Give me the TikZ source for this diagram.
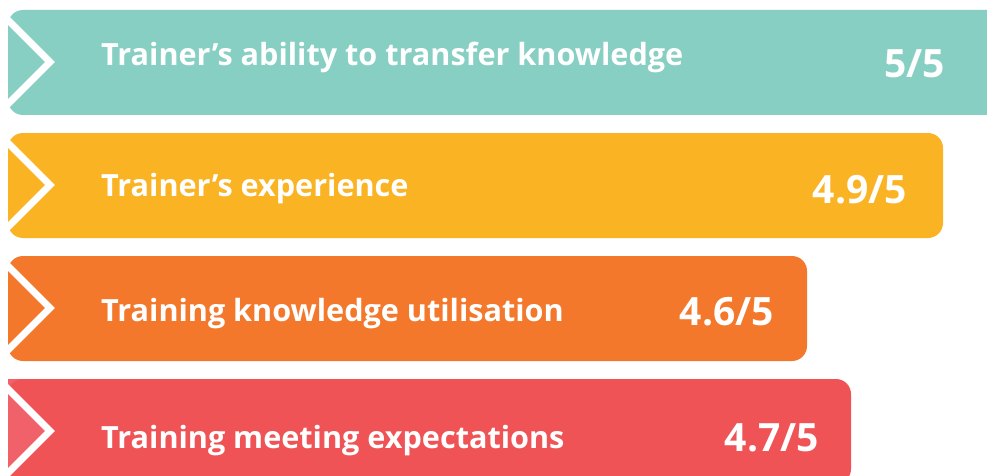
\documentclass[tikz,border=0pt]{standalone}
\usepackage{fontspec}
\setmainfont{Open Sans}
\definecolor{teal1}{HTML}{86CFC2}
\definecolor{yellow1}{HTML}{FAB323}
\definecolor{orange1}{HTML}{F3782B}
\definecolor{red1}{HTML}{EF5356}
\definecolor{red2}{HTML}{F06169}
\tikzset{
    label/.style={text=white,font=\bfseries\fontsize{30.6}{31}\selectfont,anchor=base west,inner sep=0pt},
    score/.style={text=white,font=\bfseries\fontsize{39}{39}\selectfont,anchor=base east,inner sep=0pt},
    chevron/.style={white,line width=7pt,miter limit=4}
}
\begin{document}
\begin{tikzpicture}[x=1pt,y=-1pt]
    \useasboundingbox (0,0) rectangle (987,476);
    \clip (0,0) rectangle (987,476);
    \fill[red2] (8,379) rectangle (40,484);
    \foreach \i/\t/\r/\c/\lab/\val/\lb/\vb in {
        1/10/1010/teal1/{Trainer’s ability to transfer knowledge}/5\slash 5/66/78,
        2/133/943/yellow1/{Trainer’s experience}/4.9\slash 5/196/203,
        3/256/807/orange1/{Training knowledge utilisation}/4.6\slash 5/321/325,
        4/379/851/red1/{Training meeting expectations}/4.7\slash 5/448/451}
    {
        \fill[\c,rounded corners=15pt] (8,\t) rectangle (\r,\t+105);
        \ifnum\i=4
            \fill[red2] (8,\t+6) -- (50,\t+52) -- (8,\t+99) -- cycle;
        \fi
        \draw[chevron] (3,\t+5) -- (50,\t+52) -- (3,\t+99);
        \node[label] (lab\i) at (101,\lb) {\lab};
        \pgfmathsetmacro\vx{\ifnum\i=1 945\else\ifnum\i=2 907\else\ifnum\i=3 774\else 819\fi\fi\fi}
        \node[score] (val\i) at (\vx,\vb) {\val};
    }
\end{tikzpicture}
\end{document}
